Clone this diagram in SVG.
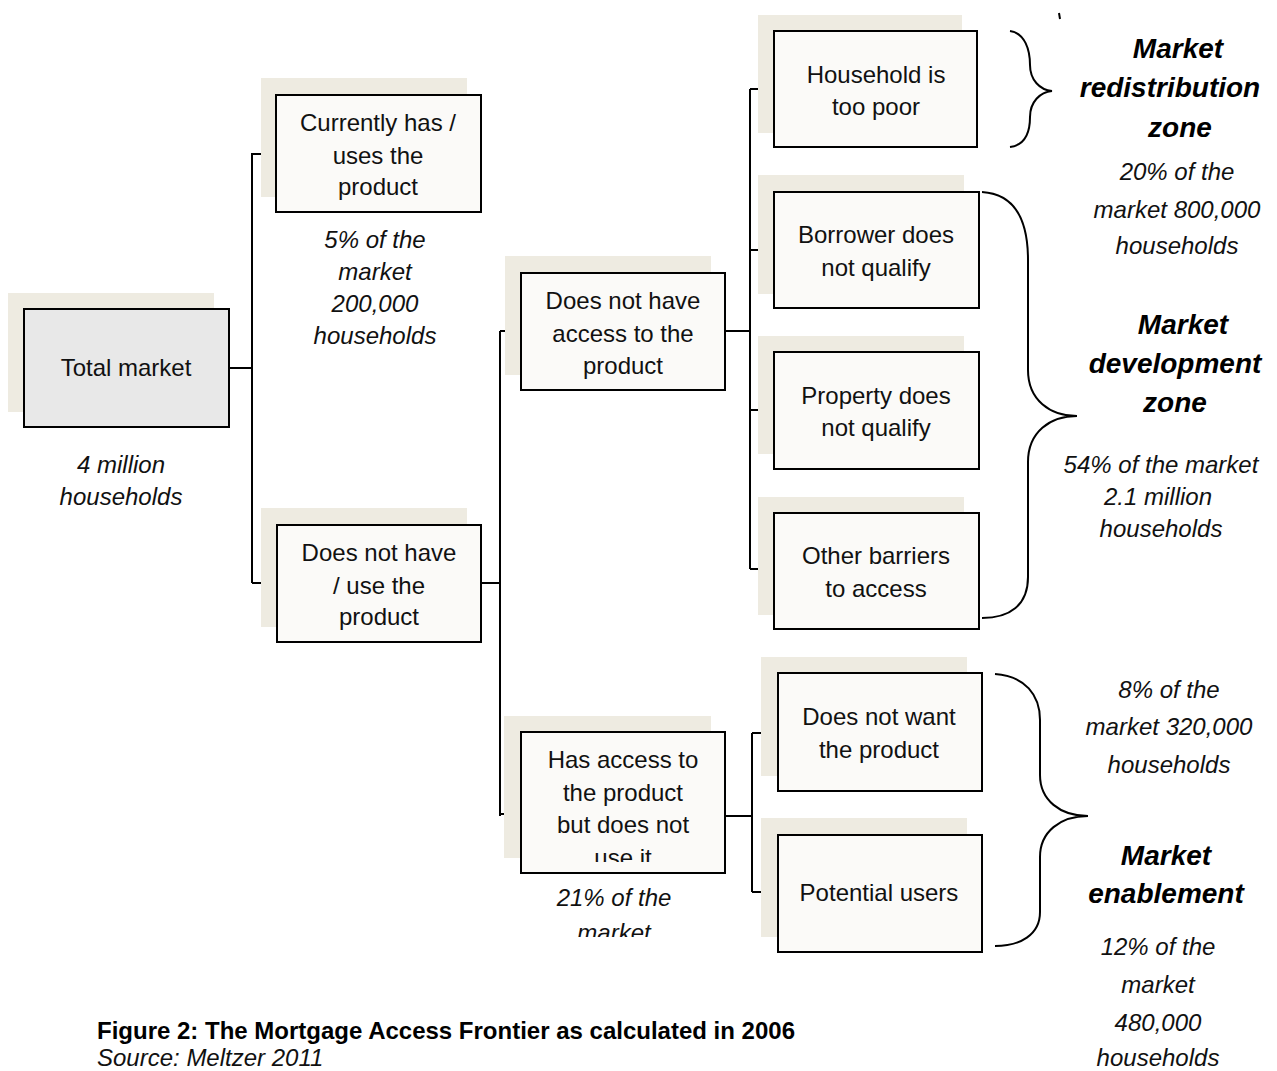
<svg xmlns="http://www.w3.org/2000/svg" width="1277" height="1071" viewBox="0 0 1277 1071">
<defs>
<style>
.sh{fill:#eeebe1;stroke:none}
.bx{fill:#fbfaf8;stroke:#000;stroke-width:2}
.gy{fill:#e8e8e8;stroke:#000;stroke-width:2}
.t{font-family:"Liberation Sans",Arial,sans-serif;font-size:24px;fill:#111;text-anchor:middle}
.i{font-family:"Liberation Sans",Arial,sans-serif;font-size:24px;font-style:italic;fill:#111;text-anchor:middle}
.b{font-family:"Liberation Sans",Arial,sans-serif;font-size:28px;font-style:italic;font-weight:bold;fill:#000;text-anchor:middle}
.c{fill:none;stroke:#000;stroke-width:2}
</style>
<clipPath id="clipUse"><rect x="521" y="732" width="204" height="130"/></clipPath>
<clipPath id="clipMkt"><rect x="500" y="875" width="240" height="62"/></clipPath>
</defs>
<rect width="1277" height="1071" fill="#fff"/>

<g id="connectors" class="c">
<path d="M229,368 H252 M252,153 V583 M252,154 H276 M252,583 H277"/>
<path d="M481,583 H500 M500,331 V816 M500,331 H521 M500,814 H521"/>
<path d="M725,331 H750 M750,89 V569 M750,89 H774 M750,250 H774 M750,410 H774 M750,569 H774"/>
<path d="M725,816 H752 M752,733 V892 M752,733 H778 M752,892 H778"/>
</g>

<g id="braces" class="c">
<path d="M1010,31 C1025,33 1030,50 1030,65 C1030,80 1040,90 1052,91 C1040,92 1030,102 1030,117 C1030,132 1025,145 1010,147"/>
<path d="M982,192 C1015,194 1028,220 1028,260 L1028,370 C1028,400 1050,416 1077,416 C1050,416 1028,432 1028,462 L1028,577 C1028,605 1010,618 982,618"/>
<path d="M995,674 C1025,676 1040,695 1040,720 L1040,775 C1040,800 1060,816 1088,816 C1060,816 1040,832 1040,857 L1040,912 C1040,935 1020,946 995,946"/>
<path d="M1059,13 L1060,19"/>
</g>

<g id="n-total">
<rect class="sh" x="8" y="293" width="206" height="119"/>
<rect class="gy" x="24" y="309" width="205" height="118"/>
<text class="t" x="126" y="376">Total market</text>
<text class="i" x="121" y="473">4 million</text>
<text class="i" x="121" y="505">households</text>
</g>

<g id="n-currently">
<rect class="sh" x="261" y="78" width="206" height="119"/>
<rect class="bx" x="276" y="95" width="205" height="117"/>
<text class="t" x="378" y="131">Currently has /</text>
<text class="t" x="378" y="164">uses the</text>
<text class="t" x="378" y="195">product</text>
<text class="i" x="375" y="248">5% of the</text>
<text class="i" x="375" y="280">market</text>
<text class="i" x="375" y="312">200,000</text>
<text class="i" x="375" y="344">households</text>
</g>

<g id="n-doesnot">
<rect class="sh" x="261" y="508" width="206" height="119"/>
<rect class="bx" x="277" y="525" width="204" height="117"/>
<text class="t" x="379" y="561">Does not have</text>
<text class="t" x="379" y="594">/ use the</text>
<text class="t" x="379" y="625">product</text>
</g>

<g id="n-noaccess">
<rect class="sh" x="505" y="256" width="206" height="119"/>
<rect class="bx" x="521" y="273" width="204" height="117"/>
<text class="t" x="623" y="309">Does not have</text>
<text class="t" x="623" y="342">access to the</text>
<text class="t" x="623" y="374">product</text>
</g>

<g id="n-hasaccess">
<rect class="sh" x="504" y="716" width="207" height="142"/>
<rect class="bx" x="521" y="732" width="204" height="141"/>
<text class="t" x="623" y="768">Has access to</text>
<text class="t" x="623" y="801">the product</text>
<text class="t" x="623" y="833">but does not</text>
<text class="t" x="623" y="866" clip-path="url(#clipUse)">use it</text>
<text class="i" x="614" y="906">21% of the</text>
<text class="i" x="614" y="941" clip-path="url(#clipMkt)">market</text>
</g>

<g id="n-poor">
<rect class="sh" x="758" y="15" width="204" height="118"/>
<rect class="bx" x="774" y="31" width="203" height="116"/>
<text class="t" x="876" y="83">Household is</text>
<text class="t" x="876" y="115">too poor</text>
</g>

<g id="n-borrower">
<rect class="sh" x="758" y="175" width="206" height="119"/>
<rect class="bx" x="774" y="192" width="205" height="116"/>
<text class="t" x="876" y="243">Borrower does</text>
<text class="t" x="876" y="276">not qualify</text>
</g>

<g id="n-property">
<rect class="sh" x="758" y="336" width="206" height="118"/>
<rect class="bx" x="774" y="352" width="205" height="117"/>
<text class="t" x="876" y="404">Property does</text>
<text class="t" x="876" y="436">not qualify</text>
</g>

<g id="n-other">
<rect class="sh" x="758" y="497" width="206" height="118"/>
<rect class="bx" x="774" y="513" width="205" height="116"/>
<text class="t" x="876" y="564">Other barriers</text>
<text class="t" x="876" y="597">to access</text>
</g>

<g id="n-notwant">
<rect class="sh" x="761" y="657" width="206" height="119"/>
<rect class="bx" x="778" y="673" width="204" height="118"/>
<text class="t" x="879" y="725">Does not want</text>
<text class="t" x="879" y="758">the product</text>
</g>

<g id="n-potential">
<rect class="sh" x="761" y="818" width="206" height="119"/>
<rect class="bx" x="778" y="835" width="204" height="117"/>
<text class="t" x="879" y="901">Potential users</text>
</g>

<g id="zone-redistribution">
<text class="b" x="1178" y="58">Market</text>
<text class="b" x="1170" y="97">redistribution</text>
<text class="b" x="1180" y="137">zone</text>
<text class="i" x="1177" y="180">20% of the</text>
<text class="i" x="1177" y="218">market 800,000</text>
<text class="i" x="1177" y="254">households</text>
</g>

<g id="zone-development">
<text class="b" x="1183" y="334">Market</text>
<text class="b" x="1175" y="373">development</text>
<text class="b" x="1175" y="412">zone</text>
<text class="i" x="1161" y="473">54% of the market</text>
<text class="i" x="1158" y="505">2.1 million</text>
<text class="i" x="1161" y="537">households</text>
</g>

<g id="zone-enablement">
<text class="i" x="1169" y="698">8% of the</text>
<text class="i" x="1169" y="735">market 320,000</text>
<text class="i" x="1169" y="773">households</text>
<text class="b" x="1166" y="865">Market</text>
<text class="b" x="1166" y="903">enablement</text>
<text class="i" x="1158" y="955">12% of the</text>
<text class="i" x="1158" y="993">market</text>
<text class="i" x="1158" y="1031">480,000</text>
<text class="i" x="1158" y="1066">households</text>
</g>

<g id="caption">
<text x="97" y="1039" style="font-family:'Liberation Sans',Arial,sans-serif;font-size:24px;font-weight:bold;fill:#000">Figure 2: The Mortgage Access Frontier as calculated in 2006</text>
<text x="97" y="1066" style="font-family:'Liberation Sans',Arial,sans-serif;font-size:24px;font-style:italic;fill:#111">Source: Meltzer 2011</text>
</g>
</svg>
